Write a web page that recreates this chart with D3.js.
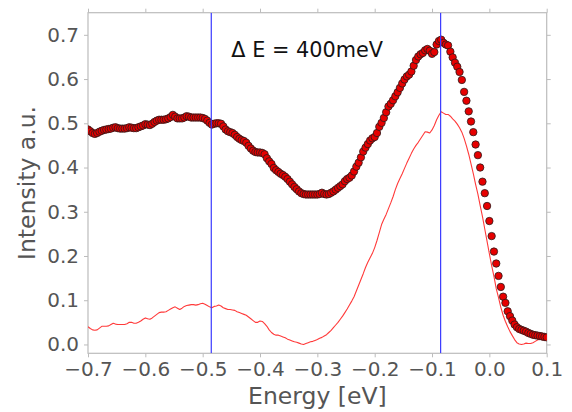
<!DOCTYPE html>
<html>
<head>
<meta charset="utf-8">
<script src="https://cdn.jsdelivr.net/npm/d3@7"></script>
<style>
  html, body { margin: 0; padding: 0; background: #fff; }
  svg { display: block; }
  text { font-family: "DejaVu Sans", sans-serif; }
</style>
</head>
<body>
<svg id="chart" width="572" height="412"></svg>
<script>
// Energy grid of the spectra (eV): regular sampling from -0.7 to 0.1
const energyStart = -0.7;
const energyStep = 0.004;

// Integrated intensity (scatter markers)
const intensityDots = [
  0.486, 0.482, 0.478, 0.476, 0.478, 0.481, 0.483, 0.485, 0.486, 0.487,
  0.488, 0.490, 0.491, 0.489, 0.488, 0.488, 0.488, 0.489, 0.491, 0.490,
  0.489, 0.489, 0.491, 0.493, 0.495, 0.498, 0.497, 0.496, 0.499, 0.503,
  0.506, 0.508, 0.508, 0.508, 0.509, 0.511, 0.514, 0.519, 0.515, 0.511,
  0.511, 0.511, 0.513, 0.516, 0.515, 0.513, 0.513, 0.513, 0.513, 0.513,
  0.512, 0.510, 0.506, 0.501, 0.497, 0.499, 0.500, 0.500, 0.499, 0.493,
  0.486, 0.482, 0.480, 0.478, 0.474, 0.469, 0.465, 0.462, 0.460, 0.456,
  0.449, 0.443, 0.438, 0.435, 0.434, 0.434, 0.433, 0.430, 0.421, 0.414,
  0.408, 0.399, 0.394, 0.390, 0.386, 0.383, 0.379, 0.374, 0.368, 0.362,
  0.356, 0.351, 0.346, 0.342, 0.340, 0.339, 0.339, 0.339, 0.339, 0.339,
  0.339, 0.340, 0.343, 0.340, 0.339, 0.340, 0.343, 0.346, 0.350, 0.354,
  0.358, 0.362, 0.369, 0.374, 0.377, 0.382, 0.391, 0.402, 0.411, 0.423,
  0.436, 0.445, 0.453, 0.461, 0.466, 0.469, 0.478, 0.492, 0.501, 0.512,
  0.525, 0.538, 0.544, 0.552, 0.561, 0.570, 0.580, 0.590, 0.599, 0.606,
  0.610, 0.617, 0.630, 0.643, 0.651, 0.656, 0.659, 0.665, 0.668, 0.664,
  0.657, 0.661, 0.678, 0.686, 0.689, 0.682, 0.678, 0.676, 0.662, 0.649,
  0.637, 0.628, 0.616, 0.598, 0.571, 0.551, 0.527, 0.504, 0.480, 0.452,
  0.428, 0.400, 0.368, 0.342, 0.313, 0.279, 0.245, 0.210, 0.183, 0.155,
  0.130, 0.108, 0.094, 0.075, 0.064, 0.054, 0.045, 0.039, 0.035, 0.033,
  0.031, 0.029, 0.026, 0.024, 0.022, 0.021, 0.020, 0.019, 0.018, 0.017,
  0.016
];

// Narrow-window spectrum (thin red line)
const intensityLine = [
  0.040, 0.036, 0.033, 0.032, 0.033, 0.037, 0.041, 0.041, 0.041, 0.042,
  0.045, 0.048, 0.046, 0.045, 0.045, 0.045, 0.045, 0.047, 0.050, 0.050,
  0.048, 0.048, 0.050, 0.053, 0.057, 0.060, 0.058, 0.057, 0.060, 0.064,
  0.068, 0.072, 0.073, 0.073, 0.074, 0.077, 0.080, 0.083, 0.085, 0.082,
  0.079, 0.082, 0.086, 0.088, 0.089, 0.090, 0.090, 0.089, 0.090, 0.092,
  0.093, 0.091, 0.088, 0.085, 0.083, 0.086, 0.087, 0.089, 0.087, 0.083,
  0.081, 0.079, 0.079, 0.078, 0.077, 0.074, 0.072, 0.070, 0.068, 0.066,
  0.062, 0.058, 0.054, 0.050, 0.050, 0.053, 0.052, 0.047, 0.041, 0.033,
  0.027, 0.023, 0.021, 0.021, 0.019, 0.017, 0.015, 0.012, 0.010, 0.008,
  0.006, 0.005, 0.003, 0.001, 0.000, 0.002, 0.004, 0.006, 0.007, 0.009,
  0.011, 0.014, 0.016, 0.019, 0.022, 0.027, 0.032, 0.038, 0.044, 0.050,
  0.057, 0.064, 0.072, 0.080, 0.089, 0.098, 0.108, 0.121, 0.134, 0.147,
  0.160, 0.174, 0.186, 0.196, 0.206, 0.219, 0.235, 0.253, 0.271, 0.283,
  0.294, 0.307, 0.320, 0.334, 0.350, 0.364, 0.375, 0.386, 0.398, 0.410,
  0.421, 0.432, 0.442, 0.450, 0.457, 0.465, 0.473, 0.481, 0.480, 0.478,
  0.485, 0.495, 0.508, 0.518, 0.526, 0.523, 0.520, 0.520, 0.516, 0.510,
  0.505, 0.498, 0.490, 0.480, 0.466, 0.449, 0.430, 0.408, 0.386, 0.362,
  0.340, 0.314, 0.289, 0.261, 0.233, 0.205, 0.178, 0.154, 0.126, 0.106,
  0.084, 0.066, 0.052, 0.040, 0.029, 0.020, 0.011, 0.004, 0.001, 0.000,
  0.001, 0.003, 0.002, 0.002, 0.004, 0.007, 0.010, 0.012, 0.015, 0.018,
  0.020
];

// Reference energies (eV) marked by vertical lines, 400 meV apart
const markerEnergies = [-0.485, -0.085];
const annotation = "\u0394 E = 400meV";

// Axis ticks
const xTicks = [-0.7, -0.6, -0.5, -0.4, -0.3, -0.2, -0.1, 0.0, 0.1];
const yTicks = [0.0, 0.1, 0.2, 0.3, 0.4, 0.5, 0.6, 0.7];
const xDomain = [-0.7, 0.1];
const yDomain = [-0.02, 0.75];

const energies = intensityDots.map((_, i) => +(energyStart + i * energyStep).toFixed(4));

const W = 572, H = 412;
const margin = { left: 88, right: 25.3, top: 12.7, bottom: 58.7 };
const iw = W - margin.left - margin.right;
const ih = H - margin.top - margin.bottom;

const svg = d3.select("#chart");
const g = svg.append("g").attr("transform", `translate(${margin.left},${margin.top})`);

const x = d3.scaleLinear().domain(xDomain).range([0, iw]);
const y = d3.scaleLinear().domain(yDomain).range([ih, 0]);

g.append("clipPath").attr("id", "plotClip")
  .append("rect").attr("x", 0).attr("y", 0).attr("width", iw).attr("height", ih);

const spineColor = "#bcbcbc";
const textColor = "#555555";
const fmtTick = d => d3.format(".1f")(d).replace("-", "\u2212");

// Axes: bottom/left labelled, top/right with ticks only
function styleAxis(sel) {
  sel.select(".domain").remove();
  sel.selectAll(".tick line").attr("stroke", spineColor).attr("stroke-width", 1);
  sel.selectAll(".tick text").attr("fill", textColor).style("font-size", "20px")
    .style("font-family", "'DejaVu Sans', sans-serif");
}

g.append("g").attr("transform", `translate(0,${ih})`)
  .call(d3.axisBottom(x).tickValues(xTicks).tickFormat(fmtTick).tickSize(4).tickPadding(5))
  .call(styleAxis);
g.append("g")
  .call(d3.axisTop(x).tickValues(xTicks).tickFormat("").tickSize(4))
  .call(styleAxis);
g.append("g")
  .call(d3.axisLeft(y).tickValues(yTicks).tickFormat(d3.format(".1f")).tickSize(4).tickPadding(5))
  .call(styleAxis);
g.append("g").attr("transform", `translate(${iw},0)`)
  .call(d3.axisRight(y).tickValues(yTicks).tickFormat("").tickSize(4))
  .call(styleAxis);

// Frame
g.append("rect").attr("x", 0).attr("y", 0).attr("width", iw).attr("height", ih)
  .attr("fill", "none").attr("stroke", spineColor).attr("stroke-width", 1.2);

const plot = g.append("g").attr("clip-path", "url(#plotClip)");

// Thin spectrum line
const lineGen = d3.line().x((d, i) => x(energies[i])).y(d => y(d));
plot.append("path").datum(intensityLine)
  .attr("d", lineGen)
  .attr("fill", "none")
  .attr("stroke", "#ff3a3a")
  .attr("stroke-width", 1.1)
  .attr("stroke-linejoin", "round");

// Scatter markers
plot.selectAll("circle.dot").data(intensityDots).join("circle")
  .attr("class", "dot")
  .attr("cx", (d, i) => x(energies[i]))
  .attr("cy", d => y(d))
  .attr("r", 3.7)
  .attr("fill", "#e60000")
  .attr("stroke", "#2a1a1a")
  .attr("stroke-width", 0.8);

// Vertical reference lines
plot.selectAll("line.marker").data(markerEnergies).join("line")
  .attr("class", "marker")
  .attr("x1", d => x(d)).attr("x2", d => x(d))
  .attr("y1", 0).attr("y2", ih)
  .attr("stroke", "#3a3aff")
  .attr("stroke-width", 1.2);

// Annotation
g.append("text")
  .attr("x", x(-0.45)).attr("y", 57.3 - margin.top)
  .attr("fill", "#111")
  .style("font-size", "20.8px")
  .text(annotation);

// Axis titles
svg.append("text")
  .attr("x", margin.left + iw / 2).attr("y", 404)
  .attr("text-anchor", "middle")
  .attr("fill", textColor)
  .style("font-size", "23.5px")
  .text("Energy [eV]");

svg.append("text")
  .attr("transform", `translate(35,${margin.top + ih / 2}) rotate(-90)`)
  .attr("text-anchor", "middle")
  .attr("fill", textColor)
  .style("font-size", "23.5px")
  .text("Intensity a.u.");
</script>
</body>
</html>
